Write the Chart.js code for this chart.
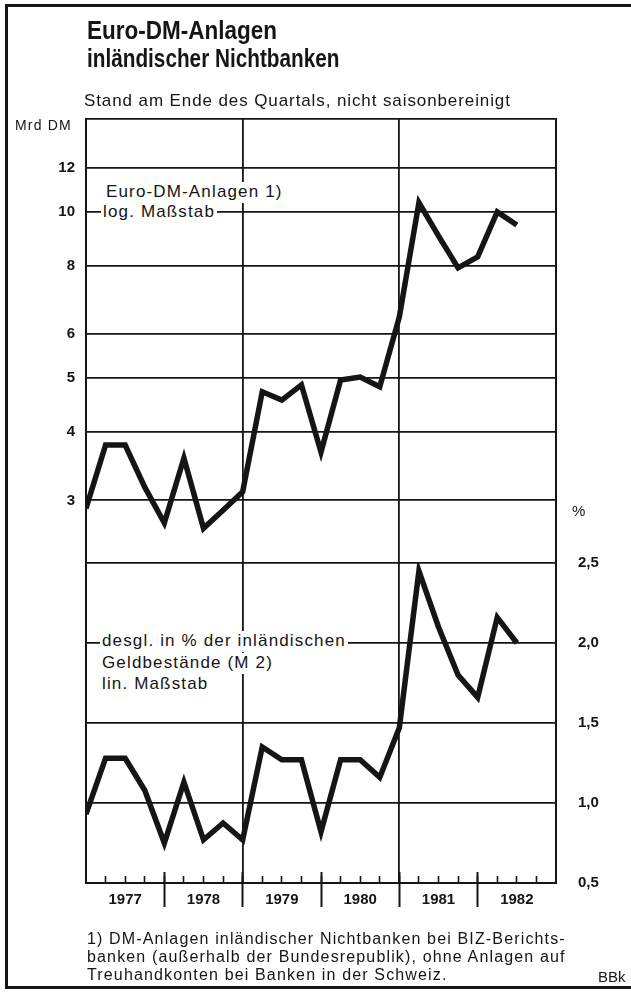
<!DOCTYPE html>
<html>
<head>
<meta charset="utf-8">
<script src="https://cdn.jsdelivr.net/npm/chart.js@4.4.0/dist/chart.umd.min.js"></script>
<style>
html,body{margin:0;padding:0;background:#fff;}
body{width:631px;height:994px;position:relative;overflow:hidden;font-family:"Liberation Sans",Arial,Helvetica,sans-serif;color:#151515;}
#frame{position:absolute;left:5px;top:4px;width:700px;height:985px;border:3px solid #151515;box-sizing:border-box;}
#c{position:absolute;left:0;top:0;z-index:1;}
.t{position:absolute;white-space:nowrap;line-height:1;z-index:2;}
.title{font-weight:bold;font-size:25px;transform-origin:0 0;}
.ann{font-size:17px;letter-spacing:1.15px;background:#fff;padding:1px 2px 3px 2px;}
.foot{font-size:16px;letter-spacing:1.15px;}
</style>
</head>
<body>
<div id="frame"></div>
<canvas id="c" width="631" height="994"></canvas>
<div class="t title" style="left:87px;top:18px;transform:scaleX(0.9);">Euro-DM-Anlagen</div>
<div class="t title" style="left:87px;top:46px;transform:scaleX(0.83);">inländischer Nichtbanken</div>
<div class="t" style="left:84px;top:92px;font-size:17px;letter-spacing:0.9px;">Stand am Ende des Quartals, nicht saisonbereinigt</div>
<div class="t" style="left:15px;top:118px;font-size:14px;letter-spacing:1.2px;">Mrd DM</div>
<div class="t" style="left:572px;top:503px;font-size:15px;">%</div>
<div class="t ann" style="left:104px;top:182px;">Euro-DM-Anlagen 1)</div>
<div class="t ann" style="left:101px;top:202px;">log. Maßstab</div>
<div class="t ann" style="left:100px;top:631px;">desgl. in % der inländischen</div>
<div class="t ann" style="left:100px;top:653px;">Geldbestände (M 2)</div>
<div class="t ann" style="left:100px;top:674px;">lin. Maßstab</div>
<div class="t foot" style="left:87px;top:931px;">1) DM-Anlagen inländischer Nichtbanken bei BIZ-Berichts-</div>
<div class="t foot" style="left:87px;top:949px;">banken (außerhalb der Bundesrepublik), ohne Anlagen auf</div>
<div class="t foot" style="left:87px;top:967px;">Treuhandkonten bei Banken in der Schweiz.</div>
<div class="t" style="left:598px;top:969px;font-size:15px;">BBk</div>
<script>
// ---- data (quarter-end values, 1976 Q4 .. 1982 Q2) ----
const quarters = ['1976 Q4',
  '1977 Q1','1977 Q2','1977 Q3','1977 Q4',
  '1978 Q1','1978 Q2','1978 Q3','1978 Q4',
  '1979 Q1','1979 Q2','1979 Q3','1979 Q4',
  '1980 Q1','1980 Q2','1980 Q3','1980 Q4',
  '1981 Q1','1981 Q2','1981 Q3','1981 Q4',
  '1982 Q1','1982 Q2'];
// Euro-DM-Anlagen, Mrd DM (log scale)
const euroDM = [2.9,
  3.78, 3.78, 3.17, 2.73,
  3.58, 2.67, 2.88, 3.11,
  4.72, 4.56, 4.86, 3.67,
  4.96, 5.02, 4.82, 6.45,
  10.4, 9.05, 7.92, 8.29,
  10.0, 9.47];
// in % der inländischen Geldbestände (M2)
const shareM2 = [0.93,
  1.28, 1.28, 1.08, 0.75,
  1.13, 0.77, 0.875, 0.77,
  1.35, 1.27, 1.27, 0.82,
  1.27, 1.27, 1.16, 1.47,
  2.45, 2.10, 1.80, 1.66,
  2.16, 2.00];
const years = ['1977','1978','1979','1980','1981','1982'];
const fullGridYears = ['1979','1981'];
const logTicks = [3,4,5,6,8,10,12];
const pctTicks = [0.5,1.0,1.5,2.0,2.5];

// ---- chart ----
const INK = '#151515';
const NONE = 'rgba(0,0,0,0)';
const FONT = '"Liberation Sans", Arial, Helvetica, sans-serif';
const nQ = years.length * 4;
const qTicks = s => { s.ticks = Array.from({length: nQ + 1}, (_, i) => ({value: i})); };
const gridAt = fullGridYears.map(y => years.indexOf(y) * 4);
const pctMin = pctTicks[0], pctMax = pctTicks[pctTicks.length - 1];
const logMin = 2.31, logMax = 14.74;

new Chart(document.getElementById('c'), {
  type: 'line',
  data: {
    datasets: [
      {data: euroDM.map((v, i) => ({x: quarters.indexOf(quarters[i]), y: v})), xAxisID: 'x', yAxisID: 'yTop'},
      {data: shareM2.map((v, i) => ({x: quarters.indexOf(quarters[i]), y: v})), xAxisID: 'x', yAxisID: 'yBot'}
    ].map(d => Object.assign(d, {borderColor: INK, borderWidth: 5.5, pointRadius: 0, tension: 0,
      fill: false, borderJoinStyle: 'miter', borderCapStyle: 'butt'}))
  },
  options: {
    responsive: false, animation: false, devicePixelRatio: 1,
    layout: {padding: {top: 119, left: 0, right: 0, bottom: 71}},
    plugins: {legend: {display: false}, tooltip: {enabled: false}},
    scales: {
      x: {
        type: 'linear', position: 'bottom', min: 0, max: nQ,
        afterBuildTicks: qTicks,
        afterFit: s => { s.height = 40; },
        ticks: {autoSkip: false, maxRotation: 0, minRotation: 0, padding: 8, color: INK,
          font: {family: FONT, size: 15, weight: 'bold'},
          callback: v => (v % 4 === 2 ? years[(v - 2) / 4] : '')},
        grid: {drawTicks: false, lineWidth: 1.8,
          color: ctx => (ctx.tick && gridAt.includes(ctx.tick.value) ? INK : NONE)},
        border: {display: true, color: INK, width: 2}
      },
      xMaj: {
        type: 'linear', axis: 'x', position: {yBot: pctMin + 11 / 160}, min: 0, max: nQ,
        afterBuildTicks: qTicks,
        ticks: {display: false},
        grid: {drawOnChartArea: false, drawTicks: true, tickLength: 35, tickWidth: 2,
          tickColor: ctx => (ctx.tick && ctx.tick.value % 4 === 0 && ctx.tick.value > 0 && ctx.tick.value < nQ ? INK : NONE)},
        border: {display: false}
      },
      xMin: {
        type: 'linear', axis: 'x', position: {yBot: pctMin + 7 / 160}, min: 0, max: nQ,
        afterBuildTicks: qTicks,
        ticks: {display: false},
        grid: {drawOnChartArea: false, drawTicks: true, tickLength: 7, tickWidth: 1.6,
          tickColor: ctx => (ctx.tick && ctx.tick.value > 0 && ctx.tick.value < nQ ? INK : NONE)},
        border: {display: false}
      },
      yTop: {
        type: 'logarithmic', position: 'left', stack: 'panels', stackWeight: 444, weight: 1,
        min: logMin, max: logMax,
        afterBuildTicks: s => { s.ticks = logTicks.concat([logMax]).map(v => ({value: v})); },
        afterFit: s => { s.width = 86; },
        ticks: {padding: 11, color: INK, font: {family: FONT, size: 15, weight: 'bold'},
          callback: v => (logTicks.includes(v) ? String(v) : '')},
        grid: {color: INK, lineWidth: 1.8, drawTicks: false},
        border: {display: true, color: INK, width: 2}
      },
      yBot: {
        type: 'linear', position: 'left', stack: 'panels', stackWeight: 320, weight: 0,
        min: pctMin, max: pctMax,
        afterBuildTicks: s => { s.ticks = pctTicks.map(v => ({value: v})); },
        afterFit: s => { s.width = 86; },
        ticks: {display: false},
        grid: {color: INK, lineWidth: 1.8, drawTicks: false},
        border: {display: true, color: INK, width: 2}
      },
      yTopR: {
        type: 'logarithmic', position: 'right', stack: 'panels', stackWeight: 444,
        min: logMin, max: logMax,
        afterFit: s => { s.width = 75; },
        ticks: {display: false},
        grid: {display: false},
        border: {display: true, color: INK, width: 2}
      },
      yBotR: {
        type: 'linear', position: 'right', stack: 'panels', stackWeight: 320,
        min: pctMin, max: pctMax,
        afterBuildTicks: s => { s.ticks = pctTicks.map(v => ({value: v})); },
        afterFit: s => { s.width = 75; },
        ticks: {padding: 14, color: INK, font: {family: FONT, size: 15, weight: 'bold'},
          callback: v => v.toFixed(1).replace('.', ',')},
        grid: {display: false},
        border: {display: true, color: INK, width: 2}
      }
    }
  }
});
</script>
</body>
</html>
